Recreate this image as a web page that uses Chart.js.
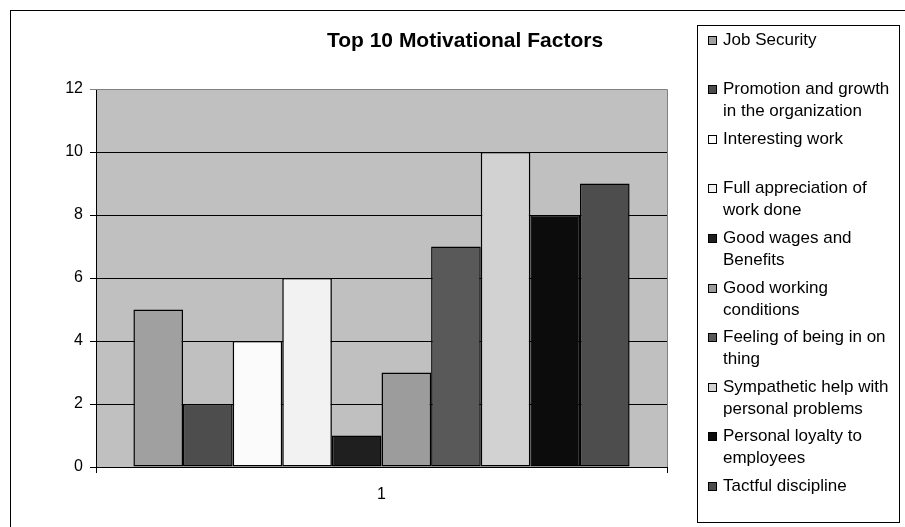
<!DOCTYPE html>
<html>
<head>
<meta charset="utf-8">
<script src="https://cdn.jsdelivr.net/npm/chart.js@4/dist/chart.umd.min.js"></script>
<style>
  html, body { margin: 0; padding: 0; background: #ffffff; }
  #wrap { width: 905px; height: 527px; position: relative; }
</style>
</head>
<body>
<div id="wrap"><canvas id="chart" width="905" height="527"></canvas></div>
<script>
// Survey results: one category, ten motivational factors
const categories = ['1'];
const factorNames = [
  'Job Security',
  'Promotion and growth in the organization',
  'Interesting work',
  'Full appreciation of work done',
  'Good wages and Benefits',
  'Good working conditions',
  'Feeling of being in on thing',
  'Sympathetic help with personal problems',
  'Personal loyalty to employees',
  'Tactful discipline'
];
const factorScores = [5, 2, 4, 6, 1, 3, 7, 10, 8, 9];
const factorColors = [
  '#a0a0a0', '#4d4d4d', '#fbfbfb', '#f2f2f2', '#1f1f1f',
  '#9c9c9c', '#595959', '#d2d2d2', '#0c0c0c', '#4d4d4d'
];
const yTicks = [0, 2, 4, 6, 8, 10, 12];
const chartTitle = 'Top 10 Motivational Factors';

const FONT = '"Liberation Sans", Arial, Helvetica, sans-serif';

const datasets = factorNames.map((name, i) => ({
  label: name,
  data: [factorScores[i]],
  backgroundColor: factorColors[i],
  borderColor: '#000000',
  borderWidth: 1.5,
  borderSkipped: false,
  categoryPercentage: 0.869,
  barPercentage: 1.0
}));

// Gray plot background and plot frame
const plotFrame = {
  id: 'plotFrame',
  beforeDraw(chart) {
    const { ctx, chartArea: a } = chart;
    ctx.save();
    ctx.fillStyle = '#ffffff';
    ctx.fillRect(0, 0, chart.width, chart.height);
    // outer chart border
    ctx.strokeStyle = '#000000';
    ctx.lineWidth = 1;
    ctx.strokeRect(10.5, 10.5, 920, 540);
    ctx.fillStyle = '#c0c0c0';
    ctx.fillRect(a.left, a.top, a.right - a.left, a.bottom - a.top);
    ctx.restore();
  },
  afterDatasetsDraw(chart) {
    const { ctx, chartArea: a } = chart;
    ctx.save();
    ctx.strokeStyle = '#808080';
    ctx.lineWidth = 1;
    ctx.beginPath();
    ctx.moveTo(a.left, Math.round(a.top) + 0.5);
    ctx.lineTo(Math.round(a.right) + 0.5, Math.round(a.top) + 0.5);
    ctx.lineTo(Math.round(a.right) + 0.5, a.bottom);
    ctx.stroke();
    ctx.restore();
  }
};

// Title and boxed legend with wrapped entries
function wrapText(ctx, text, maxWidth) {
  const words = text.split(' ');
  const lines = [];
  let line = '';
  for (const w of words) {
    const test = line ? line + ' ' + w : w;
    if (line && ctx.measureText(test).width > maxWidth) {
      lines.push(line);
      line = w;
    } else {
      line = test;
    }
  }
  if (line) lines.push(line);
  return lines;
}

const titleAndLegend = {
  id: 'titleAndLegend',
  afterDraw(chart) {
    const { ctx } = chart;
    ctx.save();
    // title
    ctx.fillStyle = '#000000';
    ctx.font = 'bold 21px ' + FONT;
    ctx.textAlign = 'center';
    ctx.textBaseline = 'alphabetic';
    ctx.fillText(chartTitle, 465, 47);

    // legend box
    ctx.strokeStyle = '#000000';
    ctx.lineWidth = 1;
    ctx.strokeRect(697.5, 25.5, 202, 497);

    ctx.font = '17px ' + FONT;
    ctx.textAlign = 'left';
    chart.data.datasets.forEach((ds, i) => {
      const base = 44.5 + i * 49.6;
      const top = Math.round(base - 9);
      ctx.fillStyle = ds.backgroundColor;
      ctx.fillRect(708, top, 9, 9);
      ctx.strokeStyle = '#000000';
      ctx.strokeRect(708.5, top + 0.5, 8, 8);
      ctx.fillStyle = '#000000';
      const lines = wrapText(ctx, ds.label, 172);
      lines.forEach((ln, j) => ctx.fillText(ln, 723, base + j * 22));
    });
    ctx.restore();
  }
};

new Chart(document.getElementById('chart'), {
  type: 'bar',
  data: { labels: categories, datasets },
  options: {
    responsive: false,
    animation: false,
    layout: { padding: { left: 0, top: 89, right: 238, bottom: 0 } },
    plugins: {
      legend: { display: false },
      title: { display: false },
      tooltip: { enabled: false }
    },
    scales: {
      x: {
        grid: {
          display: true,
          drawOnChartArea: false,
          drawTicks: true,
          tickLength: 6,
          color: '#000000',
          offset: true
        },
        border: { display: true, color: '#000000', width: 1 },
        ticks: { color: '#000000', font: { family: FONT, size: 16 }, padding: 12 },
        afterFit(scale) { scale.height = 60; }
      },
      y: {
        min: 0,
        max: 12,
        afterBuildTicks(scale) { scale.ticks = yTicks.map(v => ({ value: v })); },
        grid: {
          color: (c) => (c.tick && c.tick.value === 12 ? '#808080' : '#000000'),
          tickLength: 6,
          drawTicks: true
        },
        border: { display: true, color: '#000000', width: 1 },
        ticks: { color: '#000000', font: { family: FONT, size: 16 }, padding: 7 },
        afterFit(scale) { scale.width = 96; }
      }
    }
  },
  plugins: [plotFrame, titleAndLegend]
});
</script>
</body>
</html>
